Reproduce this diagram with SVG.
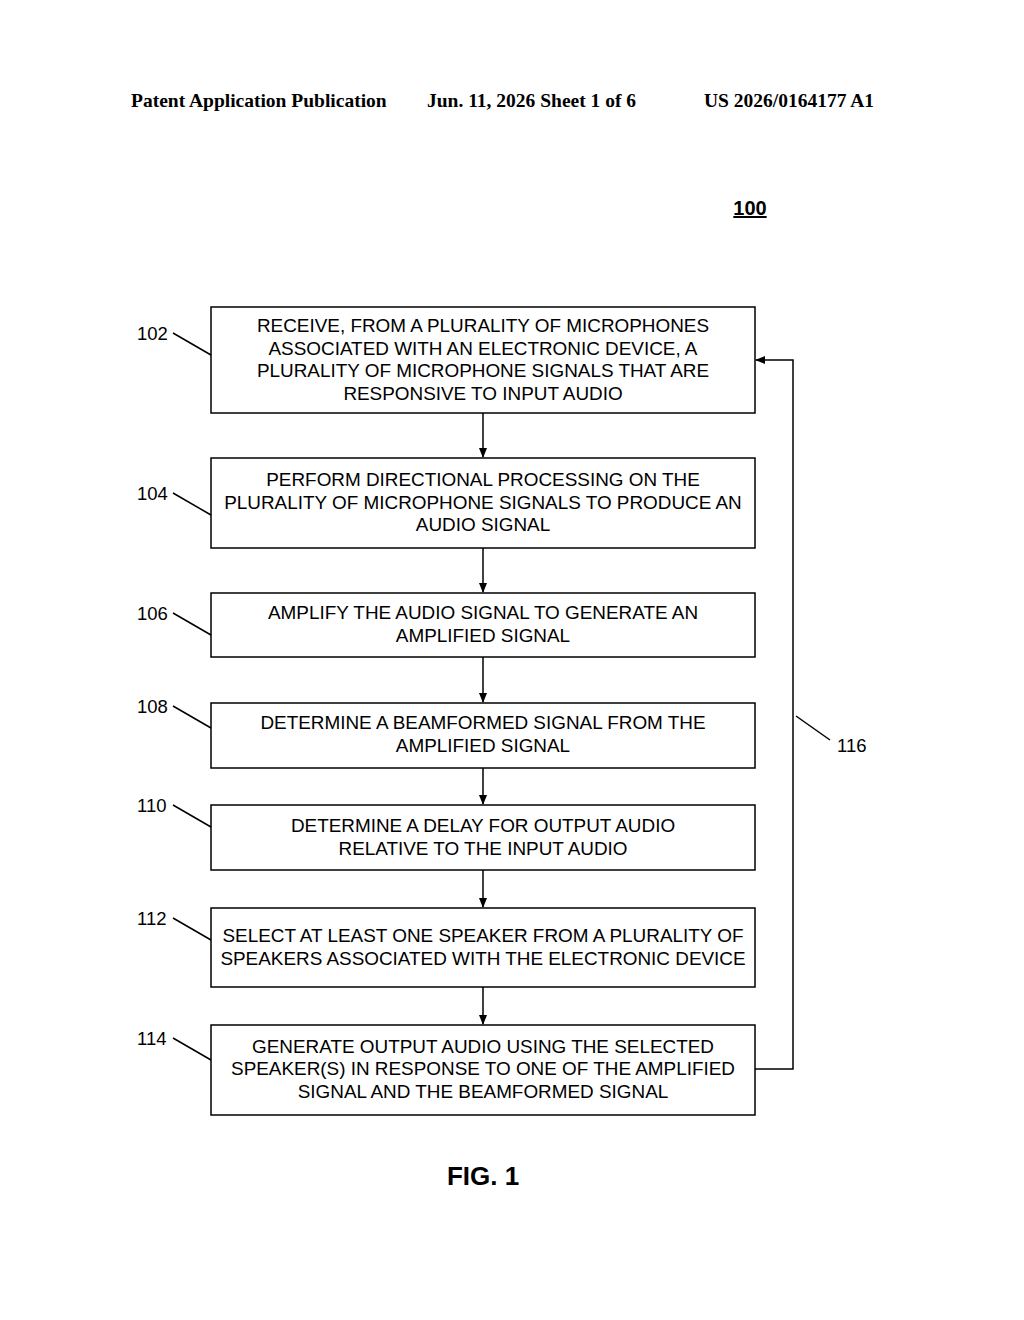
<svg xmlns="http://www.w3.org/2000/svg" width="1024" height="1320" viewBox="0 0 1024 1320">
<style>
.b{fill:#fff;stroke:#000;stroke-width:1.5}
.t{font-family:"Liberation Sans",Arial,sans-serif;font-size:18.9px;text-anchor:middle}
.r{font-family:"Liberation Sans",Arial,sans-serif;font-size:18.5px}
.h{font-family:"Liberation Serif","Times New Roman",serif;font-size:19.5px;font-weight:bold}
.c{fill:none;stroke:#000;stroke-width:1.5}
</style>
<defs><marker id="a" markerWidth="10" markerHeight="10" refX="9" refY="5" orient="auto" markerUnits="userSpaceOnUse"><path d="M0,1 L10,5 L0,9 z"/></marker></defs>
<rect width="1024" height="1320" fill="#fff"/>
<text class="h" x="131" y="107">Patent Application Publication</text>
<text class="h" x="427" y="107">Jun. 11, 2026  Sheet 1 of 6</text>
<text class="h" x="704" y="107">US 2026/0164177 A1</text>
<text x="750" y="215" font-family="Liberation Sans,Arial,sans-serif" font-size="20" font-weight="bold" text-anchor="middle" text-decoration="underline">100</text>
<g id="n102"><rect class="b" x="211" y="307" width="544" height="106"/>
<text class="t" x="483" y="332">RECEIVE, FROM A PLURALITY OF MICROPHONES</text>
<text class="t" x="483" y="355">ASSOCIATED WITH AN ELECTRONIC DEVICE, A</text>
<text class="t" x="483" y="377">PLURALITY OF MICROPHONE SIGNALS THAT ARE</text>
<text class="t" x="483" y="400">RESPONSIVE TO INPUT AUDIO</text>
<text class="r" x="137" y="340">102</text><path class="c" d="M173,333 L211,355"/></g>
<g id="n104"><rect class="b" x="211" y="458" width="544" height="90"/>
<text class="t" x="483" y="486">PERFORM DIRECTIONAL PROCESSING ON THE</text>
<text class="t" x="483" y="509">PLURALITY OF MICROPHONE SIGNALS TO PRODUCE AN</text>
<text class="t" x="483" y="531">AUDIO SIGNAL</text>
<text class="r" x="137" y="500">104</text><path class="c" d="M173,493 L211,515"/></g>
<g id="n106"><rect class="b" x="211" y="593" width="544" height="64"/>
<text class="t" x="483" y="619">AMPLIFY THE AUDIO SIGNAL TO GENERATE AN</text>
<text class="t" x="483" y="642">AMPLIFIED SIGNAL</text>
<text class="r" x="137" y="620">106</text><path class="c" d="M173,613 L211,635"/></g>
<g id="n108"><rect class="b" x="211" y="703" width="544" height="65"/>
<text class="t" x="483" y="729">DETERMINE A BEAMFORMED SIGNAL FROM THE</text>
<text class="t" x="483" y="752">AMPLIFIED SIGNAL</text>
<text class="r" x="137" y="713">108</text><path class="c" d="M173,706 L211,728"/></g>
<g id="n110"><rect class="b" x="211" y="805" width="544" height="65"/>
<text class="t" x="483" y="832">DETERMINE A DELAY FOR OUTPUT AUDIO</text>
<text class="t" x="483" y="855">RELATIVE TO THE INPUT AUDIO</text>
<text class="r" x="137" y="812">110</text><path class="c" d="M173,805 L211,827"/></g>
<g id="n112"><rect class="b" x="211" y="908" width="544" height="79"/>
<text class="t" x="483" y="942">SELECT AT LEAST ONE SPEAKER FROM A PLURALITY OF</text>
<text class="t" x="483" y="965">SPEAKERS ASSOCIATED WITH THE ELECTRONIC DEVICE</text>
<text class="r" x="137" y="925">112</text><path class="c" d="M173,918 L211,940"/></g>
<g id="n114"><rect class="b" x="211" y="1025" width="544" height="90"/>
<text class="t" x="483" y="1053">GENERATE OUTPUT AUDIO USING THE SELECTED</text>
<text class="t" x="483" y="1075">SPEAKER(S) IN RESPONSE TO ONE OF THE AMPLIFIED</text>
<text class="t" x="483" y="1098">SIGNAL AND THE BEAMFORMED SIGNAL</text>
<text class="r" x="137" y="1045">114</text><path class="c" d="M173,1038 L211,1060"/></g>
<g id="connectors">
<path class="c" d="M483,413 V457" marker-end="url(#a)"/>
<path class="c" d="M483,548 V592" marker-end="url(#a)"/>
<path class="c" d="M483,657 V702" marker-end="url(#a)"/>
<path class="c" d="M483,768 V804" marker-end="url(#a)"/>
<path class="c" d="M483,870 V907" marker-end="url(#a)"/>
<path class="c" d="M483,987 V1024" marker-end="url(#a)"/>
<path class="c" d="M755,1069 H793 V360 H756" marker-end="url(#a)"/>
<path class="c" d="M796,716 L830,740"/>
<text class="r" x="837" y="752">116</text>
</g>
<text x="483" y="1185" font-family="Liberation Sans,Arial,sans-serif" font-size="26" font-weight="bold" text-anchor="middle">FIG. 1</text>
</svg>
